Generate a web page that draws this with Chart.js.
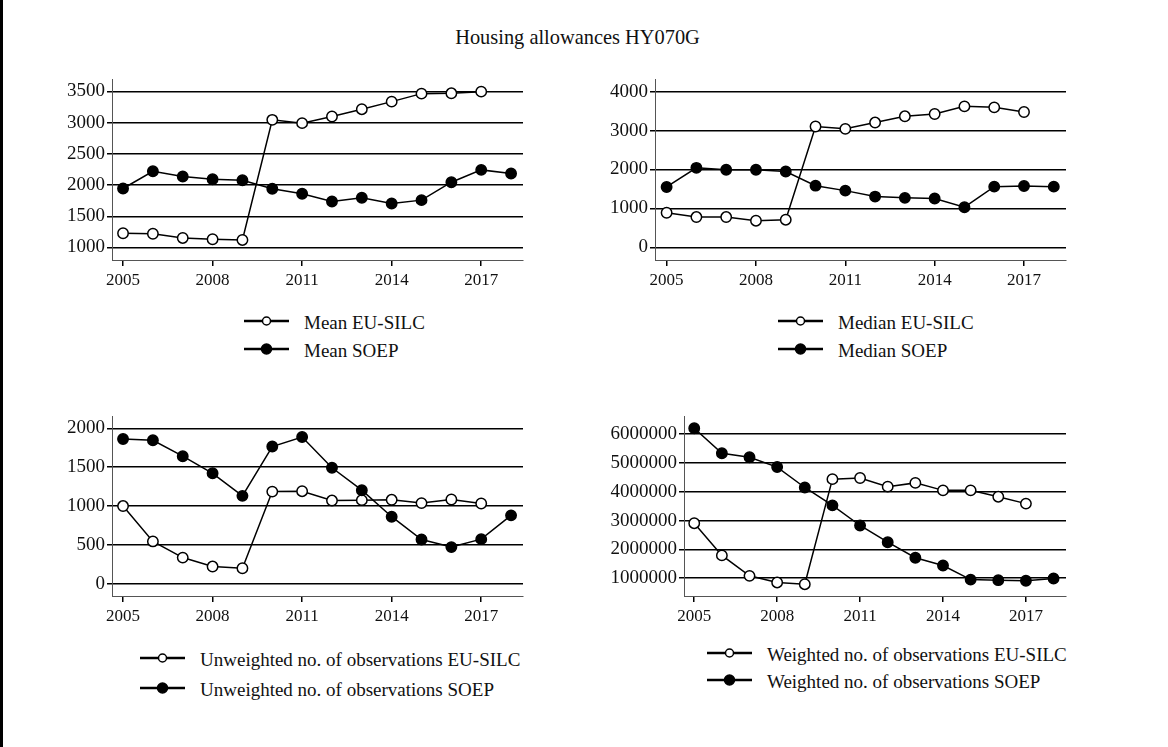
<!DOCTYPE html>
<html>
<head>
<meta charset="utf-8">
<script src="https://cdn.jsdelivr.net/npm/chart.js@4.4.0/dist/chart.umd.min.js"></script>
<style>
  body { margin: 0; width: 1168px; height: 747px; background: #fff; position: relative; overflow: hidden;
         font-family: "Liberation Serif", "Times New Roman", serif; color: #111; }
  .leftbar { position: absolute; left: 0; top: 0; width: 3px; height: 747px; background: #000; }
  .title { position: absolute; left: 0; width: 1155px; top: 26px; text-align: center; font-size: 20.4px; }
  canvas { position: absolute; }
  .lg-text { position: absolute; font-size: 19px; white-space: nowrap; line-height: 22px; }
  .lg-mark { position: absolute; }
</style>
</head>
<body>
<div class="leftbar"></div>
<div class="title">Housing allowances HY070G</div>
<canvas id="meanChart" width="500" height="234" style="left:30px;top:66px"></canvas>
<canvas id="medianChart" width="500" height="234" style="left:573px;top:66px"></canvas>
<canvas id="unwChart" width="500" height="233" style="left:30px;top:403px"></canvas>
<canvas id="wChart" width="500" height="233" style="left:573px;top:403px"></canvas>
<div id="legends"></div>
<script>
const years = [2005, 2006, 2007, 2008, 2009, 2010, 2011, 2012, 2013, 2014, 2015, 2016, 2017, 2018];
const yearTicks = [2005, 2008, 2011, 2014, 2017];

const meanEU = [1228, 1220, 1153, 1132, 1121, 3043, 2990, 3096, 3213, 3334, 3462, 3468, 3494];
const meanSOEP = [1944, 2220, 2135, 2092, 2076, 1940, 1860, 1737, 1796, 1705, 1758, 2045, 2242, 2183];
const meanTicks = [1000, 1500, 2000, 2500, 3000, 3500];

const medianEU = [890, 780, 780, 686, 712, 3104, 3044, 3205, 3366, 3425, 3621, 3595, 3476];
const medianSOEP = [1552, 2043, 1992, 1992, 1949, 1585, 1458, 1305, 1272, 1255, 1033, 1560, 1577, 1560];
const medianTicks = [0, 1000, 2000, 3000, 4000];

const unweightedEU = [1000, 545, 337, 222, 200, 1186, 1191, 1071, 1076, 1080, 1038, 1084, 1033];
const unweightedSOEP = [1862, 1846, 1641, 1421, 1131, 1765, 1888, 1492, 1204, 863, 570, 472, 574, 880];
const unweightedTicks = [0, 500, 1000, 1500, 2000];

const weightedEU = [2910000, 1790000, 1080000, 850000, 790000, 4440000, 4480000, 4180000, 4310000, 4050000, 4050000, 3830000, 3590000];
const weightedSOEP = [6210000, 5340000, 5200000, 4860000, 4150000, 3530000, 2830000, 2250000, 1710000, 1440000, 950000, 930000, 910000, 990000];
const weightedTicks = [1000000, 2000000, 3000000, 4000000, 5000000, 6000000];

const FONT = '"Liberation Serif", "Times New Roman", serif';

const toPoints = (vals) => vals.map((v, i) => ({ x: years[i], y: v }));

function makePanel(id, eu, soep, yTicks, yMin, yMax, xMin, xMax, yWidth) {
    const ctx = document.getElementById(id);
    const lineStyle = {
        borderColor: '#000',
        borderWidth: 1.5,
        pointRadius: 5.2,
        pointBorderColor: '#000',
        pointBorderWidth: 1.5,
        tension: 0
    };
    return new Chart(ctx, {
        type: 'line',
        data: {
            datasets: [
                { ...lineStyle, label: 'SOEP', data: toPoints(soep), pointBackgroundColor: '#000' },
                { ...lineStyle, label: 'EU-SILC', data: toPoints(eu), pointBackgroundColor: '#fff' }
            ]
        },
        options: {
            responsive: false,
            animation: false,
            devicePixelRatio: 1,
            layout: { padding: { top: 0, right: 7, left: 0, bottom: 0 } },
            plugins: { legend: { display: false }, tooltip: { enabled: false } },
            scales: {
                x: {
                    type: 'linear',
                    min: xMin,
                    max: xMax,
                    afterBuildTicks: (s) => { s.ticks = yearTicks.map(v => ({ value: v })); },
                    afterFit: (s) => { s.height = 40; },
                    ticks: {
                        callback: (v) => String(v),
                        font: { family: FONT, size: 17 },
                        color: '#111',
                        padding: 4,
                        maxRotation: 0,
                        autoSkip: false
                    },
                    grid: { drawOnChartArea: false, drawTicks: true, tickLength: 6, color: '#000', lineWidth: 1.5 },
                    border: { display: true, color: '#555', width: 1 }
                },
                y: {
                    type: 'linear',
                    min: yMin,
                    max: yMax,
                    afterBuildTicks: (s) => { s.ticks = yTicks.map(v => ({ value: v })); },
                    afterFit: (s) => { s.width = yWidth; },
                    ticks: {
                        callback: (v) => String(v),
                        font: { family: FONT, size: 19 },
                        color: '#111',
                        padding: 2
                    },
                    grid: { color: '#000', lineWidth: 1.5, drawTicks: true, tickLength: 5 },
                    border: { display: true, color: '#555', width: 1 }
                }
            }
        }
    });
}

makePanel('meanChart', meanEU, meanSOEP, meanTicks, 800, 3690, 2004.63, 2018.4, 82);
makePanel('medianChart', medianEU, medianSOEP, medianTicks, -323, 4313, 2004.61, 2018.41, 82);
makePanel('unwChart', unweightedEU, unweightedSOEP, unweightedTicks, -157, 2153, 2004.63, 2018.4, 82);
makePanel('wChart', weightedEU, weightedSOEP, weightedTicks, 380000, 6620000, 2004.63, 2018.45, 111);

// legends: [line start x, first row y, second row y, labels]
const legendSpecs = [
    [244, 321, 349, ['Mean EU-SILC', 'Mean SOEP']],
    [778, 321, 349, ['Median EU-SILC', 'Median SOEP']],
    [140, 658, 688, ['Unweighted no. of observations EU-SILC', 'Unweighted no. of observations SOEP']],
    [707, 653, 680, ['Weighted no. of observations EU-SILC', 'Weighted no. of observations SOEP']]
];

const holder = document.getElementById('legends');
legendSpecs.forEach(([x, y1, y2, labels]) => {
    [y1, y2].forEach((y, i) => {
        const fill = i === 0 ? '#fff' : '#000';
        const mark = document.createElement('div');
        mark.className = 'lg-mark';
        mark.style.left = x + 'px';
        mark.style.top = (y - 8) + 'px';
        mark.innerHTML = '<svg width="46" height="16"><line x1="0" y1="8" x2="45" y2="8" stroke="#000" stroke-width="2.5"/>' +
            '<circle cx="22.5" cy="8" r="' + (i === 0 ? 4 : 5) + '" fill="' + fill + '" stroke="#000" stroke-width="1.5"/></svg>';
        holder.appendChild(mark);
        const txt = document.createElement('div');
        txt.className = 'lg-text';
        txt.style.left = (x + 60) + 'px';
        txt.style.top = (y - 9) + 'px';
        txt.textContent = labels[i];
        holder.appendChild(txt);
    });
});
</script>
</body>
</html>
